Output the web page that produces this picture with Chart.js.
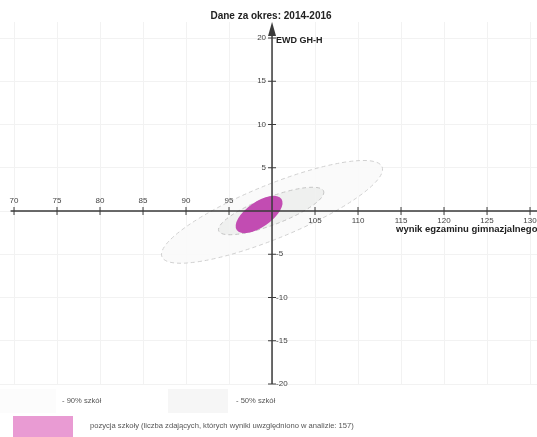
<!DOCTYPE html>
<html lang="pl">
<head>
    <meta charset="UTF-8">
    <title>EWD GH-H 2014-2016</title>
    <script src="https://cdn.jsdelivr.net/npm/chart.js"></script>
    <style>
        body { margin: 0; background: #fff; }
        canvas { display: block; }
    </style>
</head>
<body>
    <canvas id="ewdChart" width="537" height="437"></canvas>

    <script>
        // tick values on the two axes
        const xTicks = [70, 75, 80, 85, 90, 95, 100, 105, 110, 115, 120, 125, 130];
        const yTicks = [-20, -15, -10, -5, 0, 5, 10, 15, 20];

        // ellipses: 90% of schools, 50% of schools, this school
        const seriesNames = ['90% szkół', '50% szkół', 'pozycja szkoły'];
        const centreX = [100.0, 99.9, 98.5];      // exam result
        const centreY = [-0.1, 0.0, -0.4];        // EWD
        const majorDX = [12.8, 6.1, 2.6];         // half major axis, x part
        const majorDY = [5.2, 2.3, 1.8];          // half major axis, y part
        const minorHalf = [3.1, 1.6, 1.45];       // half minor axis, EWD units
        const schoolCount = 157;

        const fills = ['rgba(250,250,250,0.9)', 'rgba(238,240,238,0.9)', '#c24cb2'];
        const strokes = ['#d0d0d0', '#c4c4c4', null];

        const ewdPlugin = {
            id: 'ewd',
            beforeDatasetsDraw(chart) {
                const ctx = chart.ctx;
                const xs = chart.scales.x, ys = chart.scales.y;
                for (let i = 0; i < seriesNames.length; i++) {
                    const cx = xs.getPixelForValue(centreX[i]);
                    const cy = ys.getPixelForValue(centreY[i]);
                    const ex = xs.getPixelForValue(centreX[i] + majorDX[i]) - cx;
                    const ey = ys.getPixelForValue(centreY[i] + majorDY[i]) - cy;
                    const a = Math.hypot(ex, ey);
                    const b = Math.abs(ys.getPixelForValue(minorHalf[i]) - ys.getPixelForValue(0));
                    ctx.save();
                    ctx.beginPath();
                    ctx.ellipse(cx, cy, a, b, Math.atan2(ey, ex), 0, Math.PI * 2);
                    ctx.fillStyle = fills[i];
                    ctx.fill();
                    if (strokes[i]) {
                        ctx.setLineDash([4, 3]);
                        ctx.strokeStyle = strokes[i];
                        ctx.lineWidth = 1;
                        ctx.stroke();
                    }
                    ctx.restore();
                }
            },
            afterDraw(chart) {
                const ctx = chart.ctx;
                const xs = chart.scales.x, ys = chart.scales.y;
                const ox = xs.getPixelForValue(100);
                const oy = ys.getPixelForValue(0);
                const top = chart.chartArea.top;
                const bottom = ys.getPixelForValue(-20);

                ctx.save();
                ctx.strokeStyle = '#3a3a3a';
                ctx.fillStyle = '#3a3a3a';
                ctx.lineWidth = 1.5;

                // axis lines
                ctx.beginPath();
                ctx.moveTo(xs.getPixelForValue(69.6), oy);
                ctx.lineTo(chart.width, oy);
                ctx.moveTo(ox, top + 8);
                ctx.lineTo(ox, bottom);
                ctx.stroke();

                // arrow head
                ctx.beginPath();
                ctx.moveTo(ox, top);
                ctx.lineTo(ox - 4, top + 14);
                ctx.lineTo(ox + 4, top + 14);
                ctx.closePath();
                ctx.fill();

                // tick marks and labels
                ctx.lineWidth = 1;
                ctx.font = '8px "Liberation Sans", Arial, sans-serif';
                ctx.fillStyle = '#444';
                xTicks.forEach(v => {
                    if (v === 100) return;
                    const px = xs.getPixelForValue(v);
                    ctx.beginPath();
                    ctx.moveTo(px, oy - 4);
                    ctx.lineTo(px, oy + 4);
                    ctx.stroke();
                    ctx.textAlign = 'center';
                    ctx.textBaseline = 'middle';
                    ctx.fillText(String(v), px, v < 100 ? oy - 10 : oy + 10);
                });
                yTicks.forEach(v => {
                    if (v === 0) return;
                    const py = ys.getPixelForValue(v);
                    ctx.beginPath();
                    ctx.moveTo(ox - 4, py);
                    ctx.lineTo(ox + 4, py);
                    ctx.stroke();
                    ctx.textBaseline = 'middle';
                    if (v > 0) {
                        ctx.textAlign = 'right';
                        ctx.fillText(String(v), ox - 6, py);
                    } else {
                        ctx.textAlign = 'left';
                        ctx.fillText(String(v), ox + 4, py);
                    }
                });

                // titles
                ctx.fillStyle = '#222';
                ctx.font = 'bold 10px "Liberation Sans", Arial, sans-serif';
                ctx.textAlign = 'center';
                ctx.textBaseline = 'middle';
                ctx.fillText('Dane za okres: 2014-2016', 271, 16);
                ctx.textAlign = 'left';
                ctx.font = 'bold 9px "Liberation Sans", Arial, sans-serif';
                ctx.fillText('EWD GH-H', ox + 4, 41);
                ctx.font = 'bold 9.5px "Liberation Sans", Arial, sans-serif';
                ctx.fillText('wynik egzaminu gimnazjalnego', 396, oy + 18);

                // legend
                ctx.fillStyle = '#fcfcfc';
                ctx.fillRect(0, 389, 56, 24);
                ctx.fillStyle = '#f6f6f6';
                ctx.fillRect(168, 389, 60, 24);
                ctx.fillStyle = '#e99bd3';
                ctx.fillRect(13, 416, 60, 21);
                ctx.fillStyle = '#555';
                ctx.font = '7.6px "Liberation Sans", Arial, sans-serif';
                ctx.textBaseline = 'middle';
                ctx.fillText('- ' + seriesNames[0], 62, 401);
                ctx.fillText('- ' + seriesNames[1], 236, 401);
                ctx.fillText(seriesNames[2] + ' (liczba zdających, których wyniki uwzględniono w analizie: ' + schoolCount + ')', 90, 426);
                ctx.restore();
            }
        };

        new Chart(document.getElementById('ewdChart').getContext('2d'), {
            type: 'scatter',
            data: {
                datasets: seriesNames.map((name, i) => ({
                    label: name,
                    data: [{ x: centreX[i], y: centreY[i] }],
                    pointRadius: 0
                }))
            },
            options: {
                responsive: false,
                animation: false,
                layout: { padding: { top: 22, bottom: 53, left: 0, right: 0 } },
                plugins: { legend: { display: false }, tooltip: { enabled: false } },
                scales: {
                    x: {
                        min: 68.37,
                        max: 130.81,
                        afterBuildTicks: scale => { scale.ticks = xTicks.map(v => ({ value: v })); },
                        ticks: { display: false },
                        grid: { color: '#f2f2f2', drawTicks: false },
                        border: { display: false }
                    },
                    y: {
                        min: -20,
                        max: 21.85,
                        afterBuildTicks: scale => { scale.ticks = yTicks.map(v => ({ value: v })); },
                        ticks: { display: false },
                        grid: { color: '#f2f2f2', drawTicks: false },
                        border: { display: false }
                    }
                }
            },
            plugins: [ewdPlugin]
        });
    </script>
</body>
</html>
